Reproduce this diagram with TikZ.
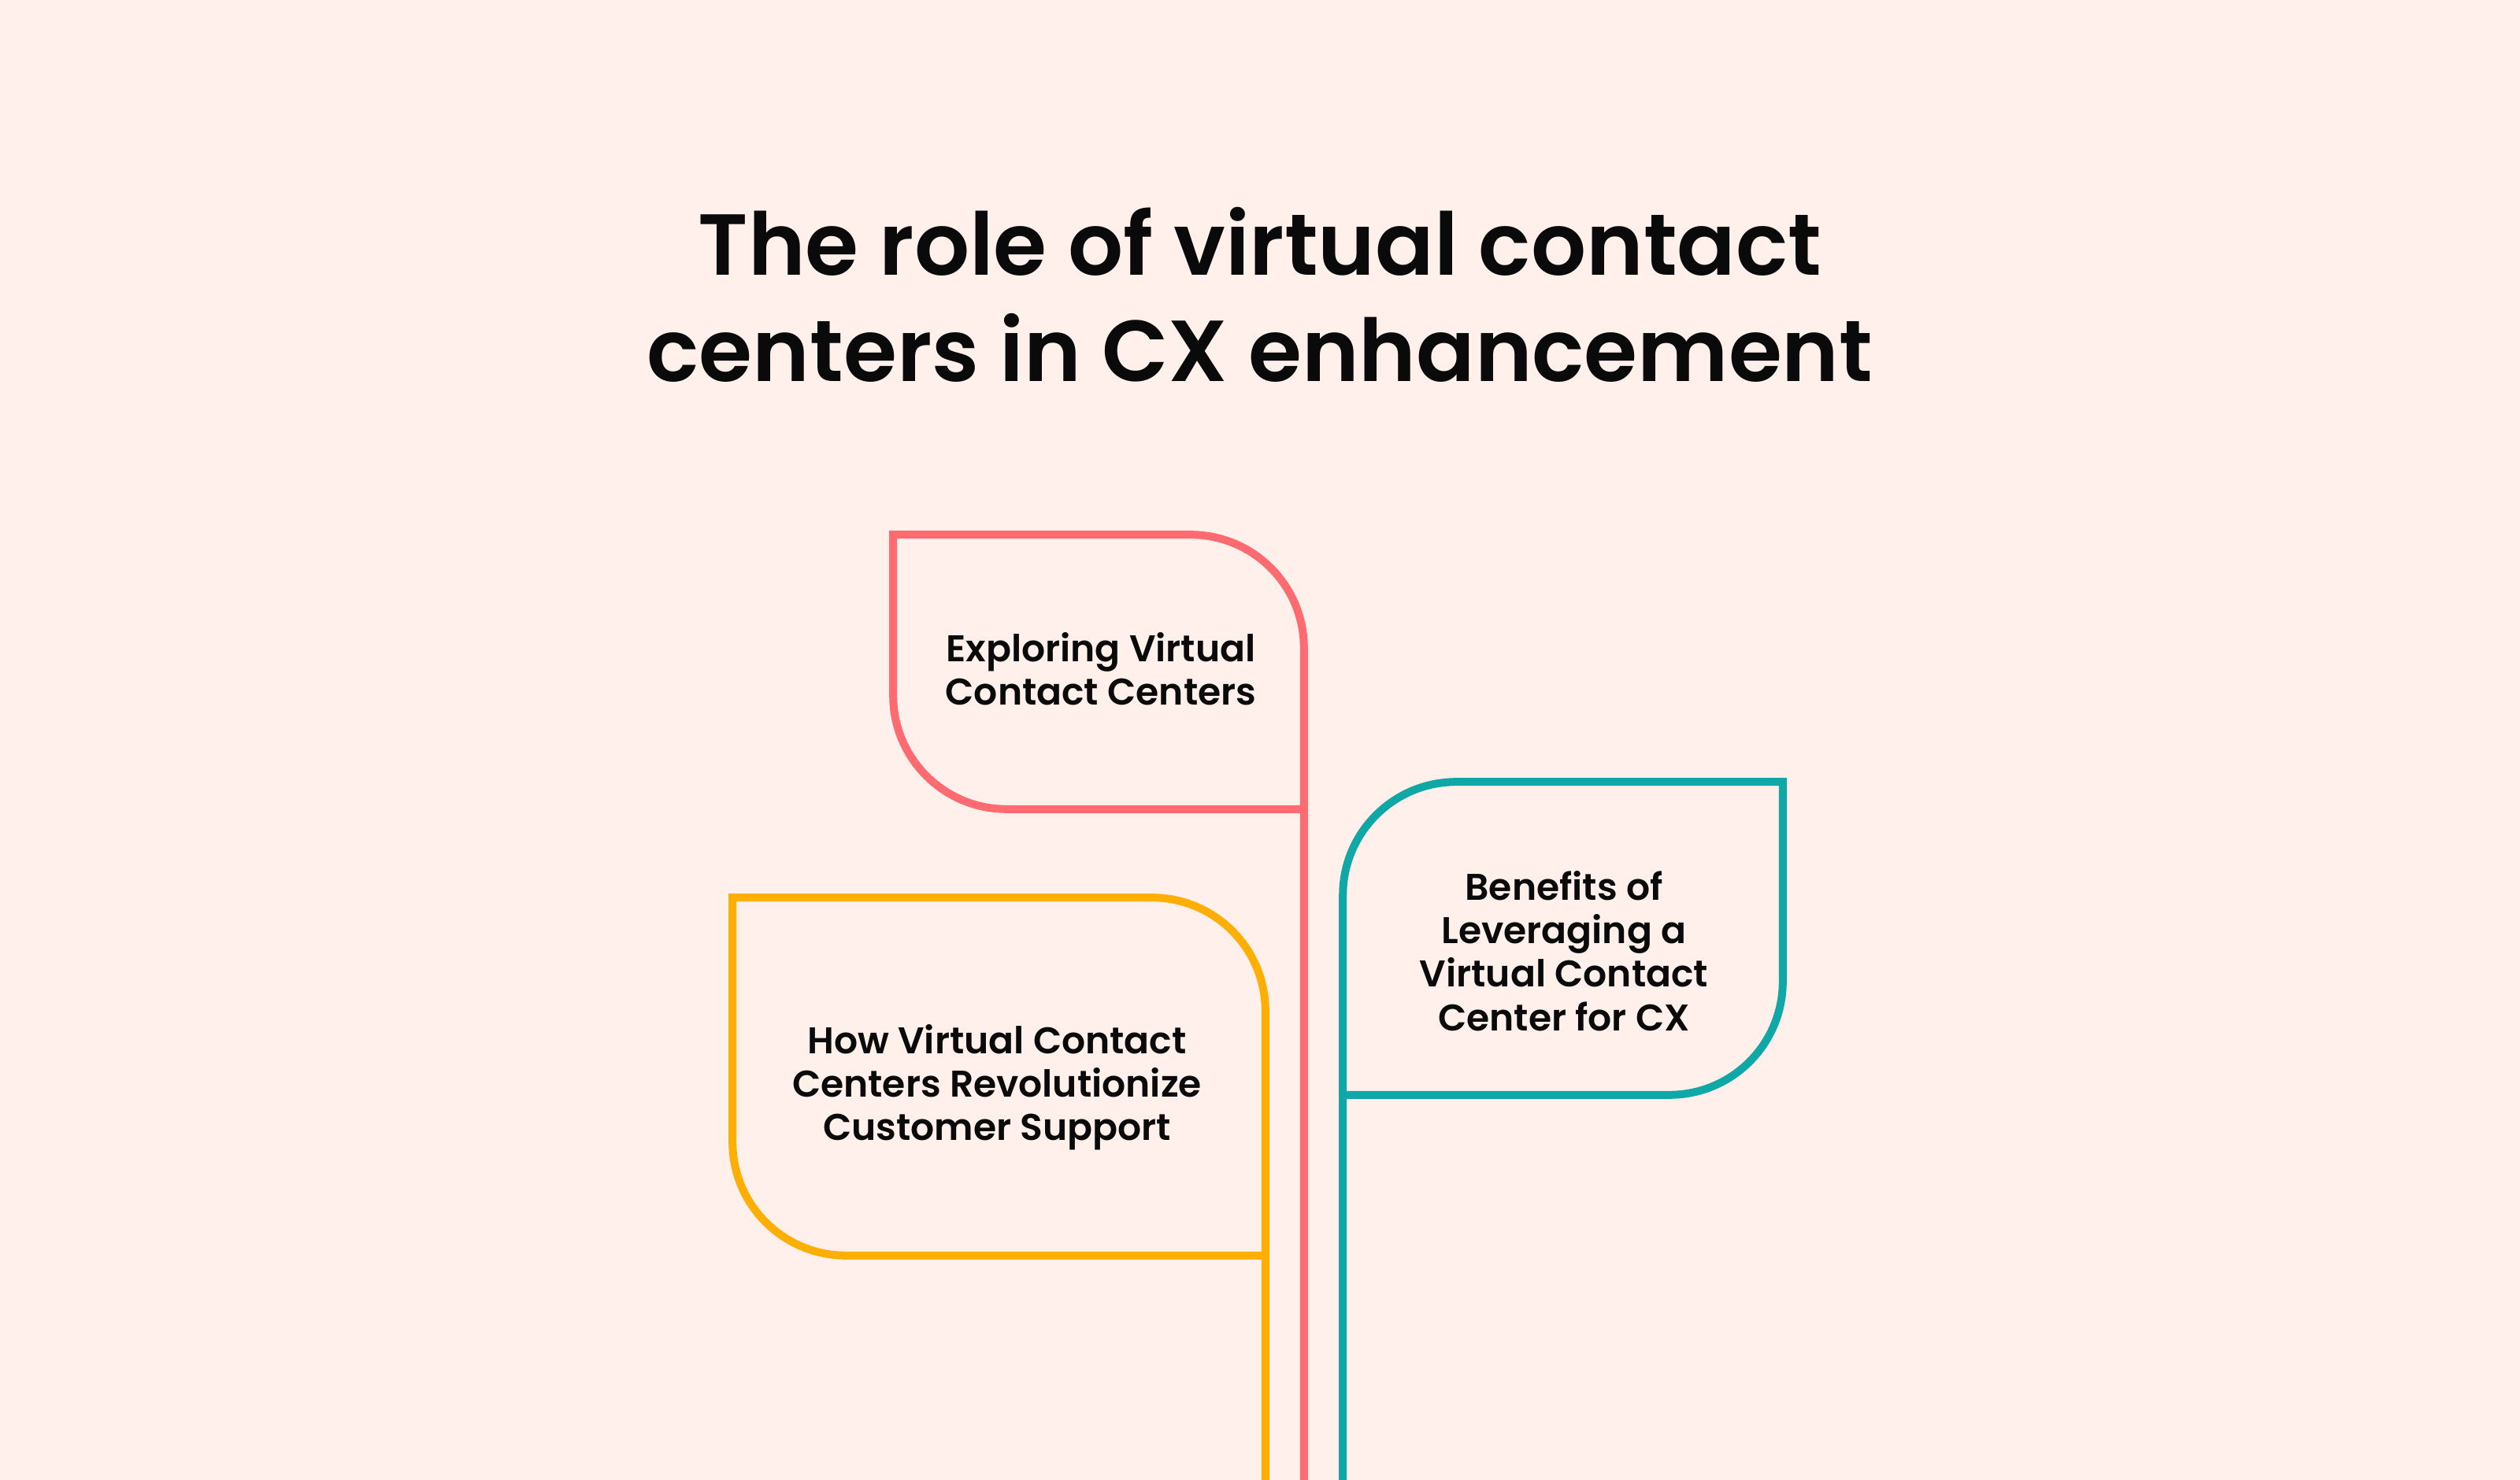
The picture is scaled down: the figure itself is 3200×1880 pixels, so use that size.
\documentclass[tikz,border=0pt]{standalone}
\usepackage{fontspec}
\setmainfont{Poppins}[BoldFont={Poppins SemiBold}]
\usepackage{tikz}
\definecolor{bgpink}{HTML}{FFF0EC}
\definecolor{ink}{HTML}{0A0A0A}
\definecolor{coral}{HTML}{FF6B70}
\definecolor{amber}{HTML}{FFAE03}
\definecolor{teal}{HTML}{10A8A6}
\tikzset{
  title/.style={align=center,inner sep=0pt,text=ink,font=\bfseries\fontsize{27.5}{33.7}\selectfont},
  topic/.style={align=center,inner sep=0pt,text=ink,font=\bfseries\fontsize{11.8}{13.8}\selectfont},
  area/.style={inner sep=0pt,draw=none},
  coralline/.style={draw=coral,line width=2.5pt},
  amberline/.style={draw=amber,line width=2.5pt},
  tealline/.style={draw=teal,line width=2.5pt}
}

\begin{document}
\begin{tikzpicture}[x=0.25pt,y=-0.25pt]
  \fill[bgpink] (0,0) rectangle (3200,1880);
  \useasboundingbox (0,0) rectangle (3200,1880);
  \node[title] (title) at (1600,374) {The role of virtual contact\\centers in CX enhancement};
  % box areas
  \node[area,minimum width=130pt,minimum height=86.75pt] (explorebox) at (1395,853.5) {};
  \node[area,minimum width=168.75pt,minimum height=113.25pt] (revolutionbox) at (1268.5,1367.5) {};
  \node[area,minimum width=139.25pt,minimum height=99pt] (benefitsbox) at (1984.5,1192) {};
  % texts
  \node[topic] (explore) at (1398,850) {Exploring Virtual\\Contact Centers};
  \node[topic] (revolution) at (1266,1381) {How Virtual Contact\\Centers Revolutionize\\Customer Support};
  \node[topic] (benefits) at (1986,1208) {Benefits of\\Leveraging a\\Virtual Contact\\Center for CX};
  \coordinate (exploreend) at (explorebox.south east |- 0,1880);
  \coordinate (revolutionend) at (revolutionbox.south east |- 0,1880);
  \coordinate (benefitsend) at (benefitsbox.south west |- 0,1880);
  % outlines and stems
  \draw[coralline] (exploreend) [rounded corners=36pt] -- (explorebox.north east) [sharp corners] -- (explorebox.north west) [rounded corners=36pt] -- (explorebox.south west) -- (explorebox.south east);
  \draw[amberline] (revolutionend) [rounded corners=36pt] -- (revolutionbox.north east) [sharp corners] -- (revolutionbox.north west) [rounded corners=36pt] -- (revolutionbox.south west) -- (revolutionbox.south east);
  \draw[tealline] (benefitsend) [rounded corners=36pt] -- (benefitsbox.north west) [sharp corners] -- (benefitsbox.north east) [rounded corners=36pt] -- (benefitsbox.south east) -- (benefitsbox.south west);
\end{tikzpicture}
\end{document}
